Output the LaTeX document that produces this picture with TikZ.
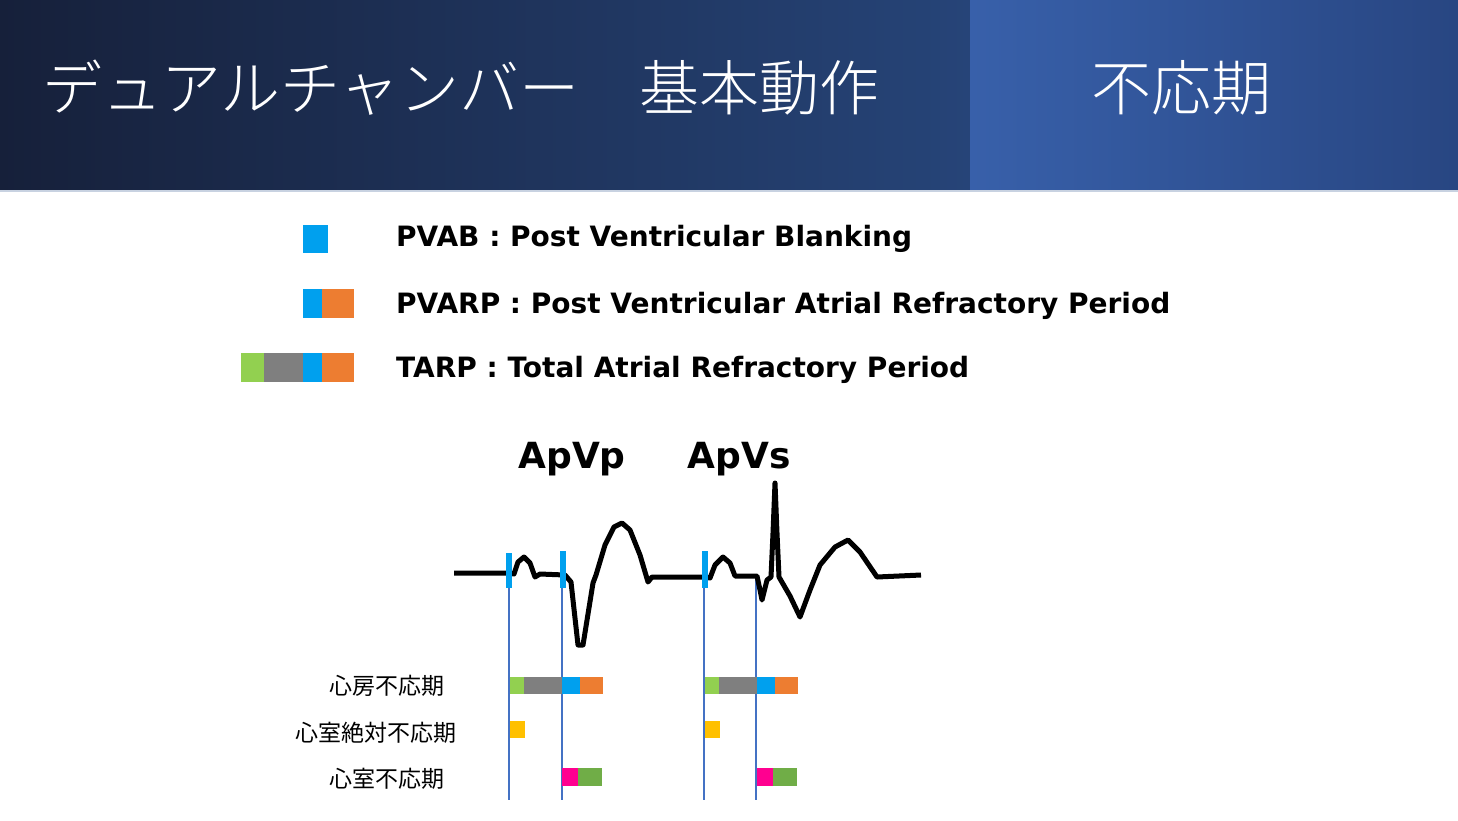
\documentclass[tikz,border=0pt]{standalone}
\usepackage{fontspec}
\newfontfamily\cjk{Noto Sans CJK JP}
\newfontfamily\cjkl{Noto Sans CJK JP Light}
\newfontfamily\vb{DejaVu Sans}
\begin{document}
\begin{tikzpicture}[x=1pt,y=-1pt,
  leg/.style={anchor=west,font=\vb\bfseries\fontsize{28}{30}\selectfont,inner sep=0},
  lab/.style={anchor=east,font=\cjk\fontsize{23}{25}\selectfont,inner sep=0},
  ecg/.style={line width=5pt,line join=round}]
\definecolor{cblue}{HTML}{00A0EE}
\definecolor{corange}{HTML}{ED7D31}
\definecolor{cgreen}{HTML}{92D050}
\definecolor{cgray}{HTML}{7F7F7F}
\definecolor{cyel}{HTML}{FFC000}
\definecolor{cmag}{HTML}{FF0090}
\definecolor{cdgreen}{HTML}{70AD47}
\definecolor{vline}{HTML}{4472C4}
\definecolor{hA}{RGB}{22,32,58}
\definecolor{hB}{RGB}{38,68,120}
\definecolor{hC}{RGB}{56,96,170}
\definecolor{hD}{RGB}{40,70,130}
\definecolor{hE}{RGB}{200,210,225}
\useasboundingbox (0,0) rectangle (1458,820);
\fill[white] (0,0) rectangle (1458,820);
\shade[left color=hA,right color=hB] (0,0) rectangle (970,190);
\shade[left color=hC,right color=hD] (970,0) rectangle (1458,190);
\fill[hE] (0,190) rectangle (1458,192);
\node[anchor=west,text=white,font=\cjkl\fontsize{60}{62}\selectfont,inner sep=0] (t1) at (42,88) {デュアルチャンバー　基本動作};
\node[text=white,font=\cjkl\fontsize{60}{62}\selectfont,inner sep=0] (t2) at (1181,88) {不応期};
% legend
\fill[cblue] (303,225) rectangle (328,253);
\fill[cblue] (303,289) rectangle (322,318);
\fill[corange] (322,289) rectangle (354,318);
\fill[cgreen] (241,353) rectangle (264,382);
\fill[cgray] (264,353) rectangle (303,382);
\fill[cblue] (303,353) rectangle (322,382);
\fill[corange] (322,353) rectangle (354,382);
\node[leg] (l1) at (396,239) {PVAB : Post Ventricular Blanking};
\node[leg] (l2) at (396,306) {PVARP : Post Ventricular Atrial Refractory Period};
\node[leg] (l3) at (396,370) {TARP : Total Atrial Refractory Period};
\node[font=\vb\bfseries\fontsize{36}{38}\selectfont] (a1) at (572,459) {ApVp};
\node[font=\vb\bfseries\fontsize{36}{38}\selectfont] (a2) at (739,459) {ApVs};
% vertical lines
\foreach \x in {509,562,704,756} \draw[vline,line width=1.3pt] (\x,575) -- (\x,800);
% ecg
\draw[ecg] (454,573) -- (509,573) -- (514,574) -- (518,562) -- (524,557) -- (530,563) -- (535,577) -- (540,574) -- (565,575) -- (571,582) -- (578,645) -- (583,645) -- (593,583) -- (596,575) -- (605,545) -- (614,527) -- (622,523) -- (630,530) -- (640,555) -- (648,582) -- (652,577) -- (705,577) -- (710,578) -- (715,565) -- (723,557) -- (730,563) -- (735,576) -- (757,576) -- (760,590) -- (762,600) -- (767,580) -- (771,577) -- (773,533) -- (775,483) -- (777,533) -- (779,577) -- (790,596) -- (800,617) -- (810,590) -- (820,565) -- (835,547) -- (848,540) -- (860,552) -- (877,577) -- (921,575);
\foreach \x/\a/\b in {509/553/588,563/551/588,705/551/588}
  \fill[cblue] (\x-3,\a) rectangle (\x+3,\b);
% bars
\foreach \o in {0,195}{
  \fill[cgreen] (510+\o,677) rectangle (524+\o,694);
  \fill[cgray] (524+\o,677) rectangle (562+\o,694);
  \fill[cblue] (562+\o,677) rectangle (580+\o,694);
  \fill[corange] (580+\o,677) rectangle (603+\o,694);
  \fill[cyel] (510+\o,721) rectangle (525+\o,738);
  \fill[cmag] (562+\o,768) rectangle (578+\o,786);
  \fill[cdgreen] (578+\o,768) rectangle (602+\o,786);
}
\node[lab] (r1) at (445,686) {心房不応期};
\node[lab] (r2) at (457,733) {心室絶対不応期};
\node[lab] (r3) at (445,779) {心室不応期};
\end{tikzpicture}
\end{document}
